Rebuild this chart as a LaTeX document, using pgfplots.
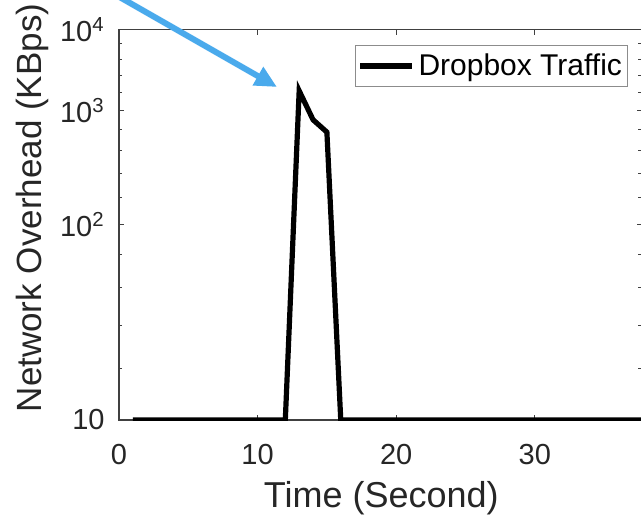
\documentclass[border=0pt]{standalone}
\usepackage{fontspec}
\setmainfont{Liberation Sans}
\usepackage{pgfplots}
\pgfplotsset{compat=1.18}
\usetikzlibrary{arrows.meta}

\definecolor{arrowblue}{RGB}{74,170,236}
\definecolor{axgray}{RGB}{64,64,64}

\begin{document}
\begin{tikzpicture}
\begin{axis}[
    scale only axis,
    width=261.25pt, height=195.25pt,
    xmin=0, xmax=37.7,
    ymin=10, ymax=10000,
    % the y axis is drawn on a log(log(y)) scale
    y coord trafo/.code={\pgfmathparse{log10(log10(#1))}},
    xtick={0,10,20,30},
    xticklabels={0,10,20,30},
    ytick={10,100,1000,10000},
    yticklabels={10,10\textsuperscript{2},10\textsuperscript{3},10\textsuperscript{4}},
    minor ytick={15.849,25.119,39.811,63.096,158.49,251.19,398.11,630.96,1584.9,2511.9,3981.1,6309.6},
    major tick length=2.5pt, minor tick length=1.7pt,
    every tick/.style={axgray, line width=0.5pt},
    axis line style={axgray, line width=0.6pt},
    tick label style={font=\fontsize{14.5}{17}\selectfont, text=black!85},
    xticklabel style={anchor=base},
    xticklabel shift=22pt,
    yticklabel style={anchor=east, inner sep=0pt},
    yticklabel shift=7pt,
    xlabel={Time (Second)},
    ylabel={Network Overhead (KBps)},
    label style={text=black!85},
    xlabel style={font=\fontsize{18}{21}\selectfont, at={(axis description cs:0.502,-0.2253)}, anchor=base},
    ylabel style={font=\fontsize{17.5}{21}\selectfont, at={(axis description cs:-0.1478,0.543)}, anchor=base},
    legend style={at={(axis description cs:0.975,0.96)}, anchor=north east,
        draw=black!45, line width=0.5pt, font=\fontsize{15}{18}\selectfont,
        inner xsep=1pt, inner ysep=2pt},
    legend image code/.code={\draw[#1] (0pt,0pt) -- (25.9pt,0pt);},
]
\addplot[black, line width=2.6pt, line join=miter] coordinates {
    (1,10)(2,10)(3,10)(4,10)(5,10)(6,10)(7,10)(8,10)(9,10)(10,10)(11,10)(12,10)
    (13,1650)(14,800)(15,600)
    (16,10)(17,10)(18,10)(19,10)(20,10)(21,10)(22,10)(23,10)(24,10)(25,10)(26,10)
    (27,10)(28,10)(29,10)(30,10)(31,10)(32,10)(33,10)(34,10)(35,10)(36,10)(37,10)
    (38,10)(39,10)(40,10)
};
\addlegendentry{Dropbox Traffic}
\end{axis}
% picture coordinates in pixels of the reference
\begin{scope}[x=0.5pt, y=-0.5pt, shift={(-59.5pt,210pt)}]
\draw[arrowblue, line width=3pt, -{Triangle[length=11pt, width=10pt]}]
    (95,-17) -- (277,87);
\pgfresetboundingbox
\path[use as bounding box] (0,0) rectangle (641,516);
\end{scope}
\end{tikzpicture}
\end{document}
